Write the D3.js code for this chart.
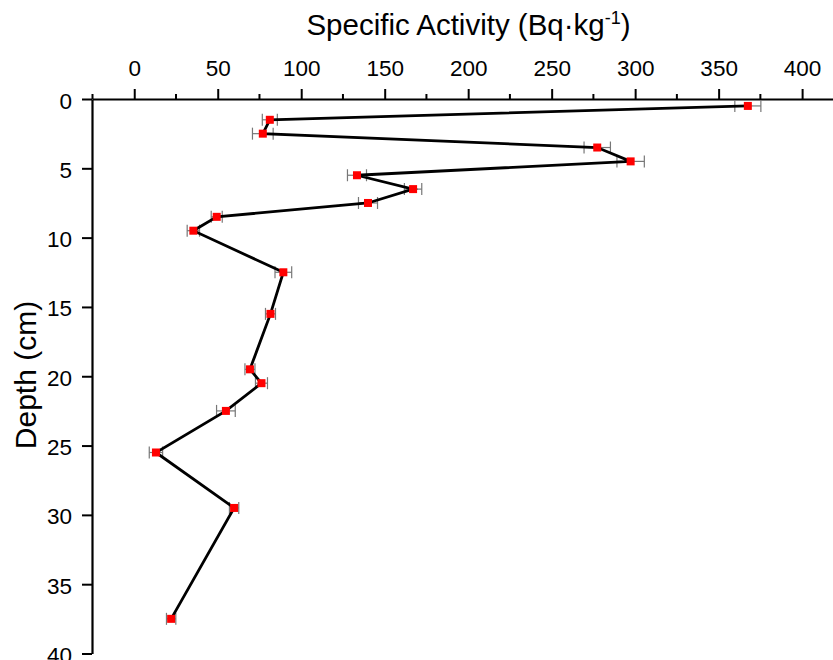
<!DOCTYPE html>
<html>
<head>
<meta charset="utf-8">
<script src="https://cdn.jsdelivr.net/npm/d3@7"></script>
<style>
  body { margin: 0; background: #fff; }
  svg text { font-family: "Liberation Sans", Arial, sans-serif; fill: #000; }
</style>
</head>
<body>
<div id="chart"></div>
<script>
// depth (cm) of each layer, activity and its uncertainty
const depths = [0.5, 1.5, 2.5, 3.5, 4.5, 5.5, 6.5, 7.5, 8.5, 9.5, 12.5, 15.5, 19.5, 20.5, 22.5, 25.5, 29.5, 37.5];
const activity = [367.5, 81.2, 77.0, 277.3, 297.3, 133.4, 167.0, 140.0, 49.4, 35.4, 89.3, 81.6, 69.3, 76.2, 54.9, 13.0, 59.8, 22.1];
const errors = [7.8, 4.5, 6.2, 7.9, 8.2, 5.7, 5.2, 5.7, 3.3, 3.7, 5.0, 3.0, 3.0, 3.6, 5.6, 4.0, 2.8, 2.8];
const xTicks = [0, 50, 100, 150, 200, 250, 300, 350, 400];
const yTicks = [0, 5, 10, 15, 20, 25, 30, 35, 40];

const W = 833, H = 660;
const padL = 92, padT = 99, padR = 833, padB = 653.5;

const svg = d3.select("#chart").append("svg")
    .attr("width", W)
    .attr("height", H);

const x = d3.scaleLinear().domain([-25.3, 418.5]).range([padL, padR]);
const y = d3.scaleLinear().domain([0, 40]).range([padT, padB]);

const points = depths.map((d, i) => ({ depth: d, value: activity[i], err: errors[i] }));

// top axis with major and minor ticks
const xAxis = svg.append("g").attr("transform", `translate(0,${padT})`);
xAxis.call(d3.axisTop(x).tickValues(xTicks).tickSize(10).tickSizeOuter(0).tickPadding(13.5));
xAxis.append("g").selectAll("line")
    .data(d3.range(-25, 420, 50))
    .enter().append("line")
    .attr("x1", d => x(d)).attr("x2", d => x(d))
    .attr("y1", 0).attr("y2", -5)
    .attr("stroke", "#000").attr("stroke-width", 2);

const yAxis = svg.append("g").attr("transform", `translate(${padL},0)`);
yAxis.call(d3.axisLeft(y).tickValues(yTicks).tickSize(10).tickSizeOuter(0).tickPadding(10));

[xAxis, yAxis].forEach(g => {
    g.select(".domain").attr("stroke", "#000").attr("stroke-width", 2.2);
    g.selectAll(".tick line").attr("stroke", "#000").attr("stroke-width", 2);
    g.selectAll(".tick text").attr("font-size", 22.5).attr("fill", "#000");
});
yAxis.selectAll(".tick text").attr("dy", "0.4em");

// axis titles
const title = svg.append("text")
    .attr("x", 468.5).attr("y", 35)
    .attr("text-anchor", "middle")
    .attr("font-size", 29.5);
title.append("tspan").text("Specific Activity (Bq\u00b7kg");
title.append("tspan").attr("dy", -11).attr("font-size", 18).text("-1");
title.append("tspan").attr("dy", 11).text(")");

svg.append("text")
    .attr("transform", `translate(35.5,375) rotate(-90)`)
    .attr("text-anchor", "middle")
    .attr("font-size", 30)
    .text("Depth (cm)");

// horizontal error bars
const eb = svg.append("g").attr("stroke", "#777").attr("stroke-width", 1.2);
eb.selectAll(".bar").data(points).enter().append("line")
    .attr("x1", d => x(d.value - d.err)).attr("x2", d => x(d.value + d.err))
    .attr("y1", d => y(d.depth)).attr("y2", d => y(d.depth));
eb.selectAll(".capl").data(points).enter().append("line")
    .attr("x1", d => x(d.value - d.err)).attr("x2", d => x(d.value - d.err))
    .attr("y1", d => y(d.depth) - 6).attr("y2", d => y(d.depth) + 6);
eb.selectAll(".capr").data(points).enter().append("line")
    .attr("x1", d => x(d.value + d.err)).attr("x2", d => x(d.value + d.err))
    .attr("y1", d => y(d.depth) - 6).attr("y2", d => y(d.depth) + 6);

// profile line
svg.append("path")
    .datum(points)
    .attr("fill", "none")
    .attr("stroke", "#000")
    .attr("stroke-width", 2.8)
    .attr("stroke-linejoin", "miter")
    .attr("d", d3.line().x(d => x(d.value)).y(d => y(d.depth)));

// markers
svg.append("g").selectAll("rect")
    .data(points)
    .enter().append("rect")
    .attr("x", d => x(d.value) - 4)
    .attr("y", d => y(d.depth) - 4)
    .attr("width", 8).attr("height", 8)
    .attr("fill", "#ff0000");
</script>
</body>
</html>
